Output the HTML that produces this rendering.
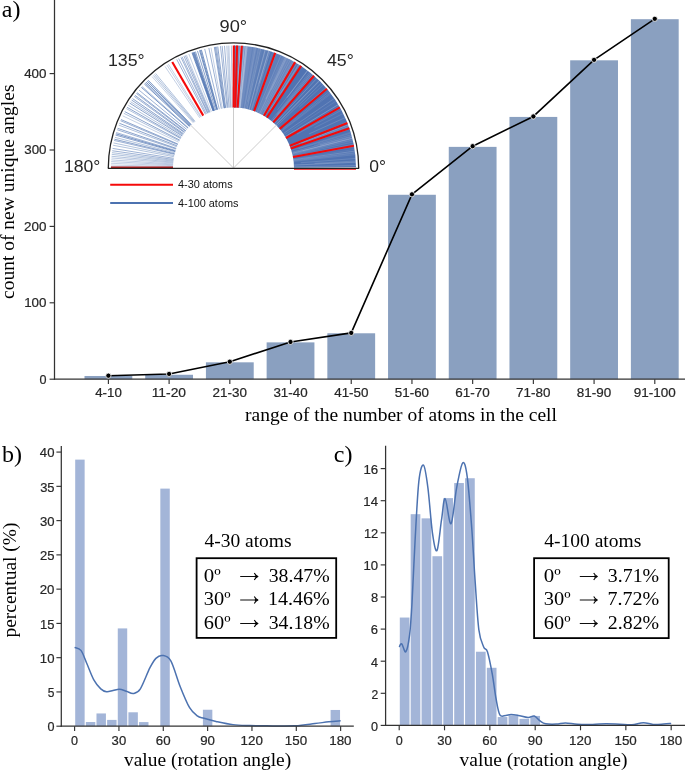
<!DOCTYPE html><html><head><meta charset="utf-8"><style>html,body{margin:0;padding:0;background:#fff;}svg{display:block;will-change:transform;}</style></head><body><svg width="685" height="770" viewBox="0 0 685 770"><rect width="685" height="770" fill="#fff"/><rect x="84.50" y="375.99" width="47.80" height="3.21" fill="#8aa0c0"/>
<rect x="145.21" y="374.77" width="47.80" height="4.43" fill="#8aa0c0"/>
<rect x="205.92" y="362.32" width="47.80" height="16.88" fill="#8aa0c0"/>
<rect x="266.63" y="342.38" width="47.80" height="36.82" fill="#8aa0c0"/>
<rect x="327.34" y="333.28" width="47.80" height="45.92" fill="#8aa0c0"/>
<rect x="388.05" y="194.77" width="47.80" height="184.43" fill="#8aa0c0"/>
<rect x="448.76" y="146.87" width="47.80" height="232.33" fill="#8aa0c0"/>
<rect x="509.47" y="116.92" width="47.80" height="262.28" fill="#8aa0c0"/>
<rect x="570.18" y="60.31" width="47.80" height="318.89" fill="#8aa0c0"/>
<rect x="630.89" y="19.20" width="47.80" height="360.00" fill="#8aa0c0"/>
<line x1="54.50" y1="0.00" x2="54.50" y2="379.80" stroke="#333333" stroke-width="1.25"/>
<line x1="53.90" y1="379.20" x2="685.00" y2="379.20" stroke="#333333" stroke-width="1.25"/>
<line x1="49.60" y1="379.20" x2="54.50" y2="379.20" stroke="#333333" stroke-width="1.15"/>
<text x="39.43" y="383.50" font-family='"Liberation Sans", sans-serif' font-size="12.4" fill="#262626" stroke="#262626" stroke-width="0.2" textLength="7.02" lengthAdjust="spacingAndGlyphs">0</text>
<line x1="49.60" y1="302.80" x2="54.50" y2="302.80" stroke="#333333" stroke-width="1.15"/>
<text x="24.18" y="307.10" font-family='"Liberation Sans", sans-serif' font-size="12.4" fill="#262626" stroke="#262626" stroke-width="0.2" textLength="22.34" lengthAdjust="spacingAndGlyphs">100</text>
<line x1="49.60" y1="226.40" x2="54.50" y2="226.40" stroke="#333333" stroke-width="1.15"/>
<text x="24.09" y="230.70" font-family='"Liberation Sans", sans-serif' font-size="12.4" fill="#262626" stroke="#262626" stroke-width="0.2" textLength="22.43" lengthAdjust="spacingAndGlyphs">200</text>
<line x1="49.60" y1="150.00" x2="54.50" y2="150.00" stroke="#333333" stroke-width="1.15"/>
<text x="24.23" y="154.30" font-family='"Liberation Sans", sans-serif' font-size="12.4" fill="#262626" stroke="#262626" stroke-width="0.2" textLength="22.29" lengthAdjust="spacingAndGlyphs">300</text>
<line x1="49.60" y1="73.60" x2="54.50" y2="73.60" stroke="#333333" stroke-width="1.15"/>
<text x="24.19" y="77.90" font-family='"Liberation Sans", sans-serif' font-size="12.4" fill="#262626" stroke="#262626" stroke-width="0.2" textLength="22.32" lengthAdjust="spacingAndGlyphs">400</text>
<line x1="108.40" y1="379.20" x2="108.40" y2="384.10" stroke="#333333" stroke-width="1.15"/>
<text x="95.20" y="397.00" font-family='"Liberation Sans", sans-serif' font-size="12.4" fill="#262626" stroke="#262626" stroke-width="0.2" textLength="26.61" lengthAdjust="spacingAndGlyphs">4-10</text>
<line x1="169.11" y1="379.20" x2="169.11" y2="384.10" stroke="#333333" stroke-width="1.15"/>
<text x="151.69" y="397.00" font-family='"Liberation Sans", sans-serif' font-size="12.4" fill="#262626" stroke="#262626" stroke-width="0.2" textLength="34.33" lengthAdjust="spacingAndGlyphs">11-20</text>
<line x1="229.82" y1="379.20" x2="229.82" y2="384.10" stroke="#333333" stroke-width="1.15"/>
<text x="212.56" y="397.00" font-family='"Liberation Sans", sans-serif' font-size="12.4" fill="#262626" stroke="#262626" stroke-width="0.2" textLength="34.36" lengthAdjust="spacingAndGlyphs">21-30</text>
<line x1="290.53" y1="379.20" x2="290.53" y2="384.10" stroke="#333333" stroke-width="1.15"/>
<text x="273.40" y="397.00" font-family='"Liberation Sans", sans-serif' font-size="12.4" fill="#262626" stroke="#262626" stroke-width="0.2" textLength="34.22" lengthAdjust="spacingAndGlyphs">31-40</text>
<line x1="351.24" y1="379.20" x2="351.24" y2="384.10" stroke="#333333" stroke-width="1.15"/>
<text x="334.23" y="397.00" font-family='"Liberation Sans", sans-serif' font-size="12.4" fill="#262626" stroke="#262626" stroke-width="0.2" textLength="34.25" lengthAdjust="spacingAndGlyphs">41-50</text>
<line x1="411.95" y1="379.20" x2="411.95" y2="384.10" stroke="#333333" stroke-width="1.15"/>
<text x="394.82" y="397.00" font-family='"Liberation Sans", sans-serif' font-size="12.4" fill="#262626" stroke="#262626" stroke-width="0.2" textLength="34.22" lengthAdjust="spacingAndGlyphs">51-60</text>
<line x1="472.66" y1="379.20" x2="472.66" y2="384.10" stroke="#333333" stroke-width="1.15"/>
<text x="455.37" y="397.00" font-family='"Liberation Sans", sans-serif' font-size="12.4" fill="#262626" stroke="#262626" stroke-width="0.2" textLength="34.42" lengthAdjust="spacingAndGlyphs">61-70</text>
<line x1="533.37" y1="379.20" x2="533.37" y2="384.10" stroke="#333333" stroke-width="1.15"/>
<text x="516.14" y="397.00" font-family='"Liberation Sans", sans-serif' font-size="12.4" fill="#262626" stroke="#262626" stroke-width="0.2" textLength="34.30" lengthAdjust="spacingAndGlyphs">71-80</text>
<line x1="594.08" y1="379.20" x2="594.08" y2="384.10" stroke="#333333" stroke-width="1.15"/>
<text x="576.82" y="397.00" font-family='"Liberation Sans", sans-serif' font-size="12.4" fill="#262626" stroke="#262626" stroke-width="0.2" textLength="34.41" lengthAdjust="spacingAndGlyphs">81-90</text>
<line x1="654.79" y1="379.20" x2="654.79" y2="384.10" stroke="#333333" stroke-width="1.15"/>
<text x="633.72" y="397.00" font-family='"Liberation Sans", sans-serif' font-size="12.4" fill="#262626" stroke="#262626" stroke-width="0.2" textLength="41.98" lengthAdjust="spacingAndGlyphs">91-100</text>
<polyline points="108.40,375.69 169.11,373.93 229.82,361.70 290.53,341.92 351.24,332.90 411.95,194.31 472.66,146.18 533.37,116.46 594.08,59.85 654.79,18.82" fill="none" stroke="#000" stroke-width="1.6" stroke-linejoin="round"/>
<circle cx="108.40" cy="375.69" r="2.6" fill="#000" stroke="#fff" stroke-width="0.8"/>
<circle cx="169.11" cy="373.93" r="2.6" fill="#000" stroke="#fff" stroke-width="0.8"/>
<circle cx="229.82" cy="361.70" r="2.6" fill="#000" stroke="#fff" stroke-width="0.8"/>
<circle cx="290.53" cy="341.92" r="2.6" fill="#000" stroke="#fff" stroke-width="0.8"/>
<circle cx="351.24" cy="332.90" r="2.6" fill="#000" stroke="#fff" stroke-width="0.8"/>
<circle cx="411.95" cy="194.31" r="2.6" fill="#000" stroke="#fff" stroke-width="0.8"/>
<circle cx="472.66" cy="146.18" r="2.6" fill="#000" stroke="#fff" stroke-width="0.8"/>
<circle cx="533.37" cy="116.46" r="2.6" fill="#000" stroke="#fff" stroke-width="0.8"/>
<circle cx="594.08" cy="59.85" r="2.6" fill="#000" stroke="#fff" stroke-width="0.8"/>
<circle cx="654.79" cy="18.82" r="2.6" fill="#000" stroke="#fff" stroke-width="0.8"/>
<text x="1.76" y="16.90" font-family='"Liberation Serif", serif' font-size="24" fill="#000">a)</text>
<text x="245.01" y="420.50" font-family='"Liberation Serif", serif' font-size="19.5" fill="#000">range of the number of atoms in the cell</text>
<text transform="translate(14.10,298.20) rotate(-90)" x="-0.78" y="0" font-family='"Liberation Serif", serif' font-size="19.5" fill="#000">count of new unique angles</text>
<path d="M356.00,167.36 A122.5,122.5 0 0 0 233.93,45.50 L233.71,107.50 A60.5,60.5 0 0 1 294.00,167.68 Z" fill="#5073b2"/>
<path d="M302.17,66.19 A122.8,122.8 0 0 0 301.28,65.60 L266.73,117.80 A60.2,60.2 0 0 1 267.16,118.09 Z" fill="#ffffff" fill-opacity="0.03"/>
<path d="M301.28,65.60 A122.8,122.8 0 0 0 295.27,61.87 L263.78,115.97 A60.2,60.2 0 0 1 266.73,117.80 Z" fill="#ffffff" fill-opacity="0.05"/>
<path d="M295.27,61.87 A122.8,122.8 0 0 0 283.45,55.82 L257.99,113.00 A60.2,60.2 0 0 1 263.78,115.97 Z" fill="#ffffff" fill-opacity="0.15"/>
<path d="M283.45,55.82 A122.8,122.8 0 0 0 275.50,52.61 L254.09,111.43 A60.2,60.2 0 0 1 257.99,113.00 Z" fill="#ffffff" fill-opacity="0.09"/>
<path d="M275.50,52.61 A122.8,122.8 0 0 0 269.40,50.57 L251.10,110.43 A60.2,60.2 0 0 1 254.09,111.43 Z" fill="#ffffff" fill-opacity="0.04"/>
<path d="M269.40,50.57 A122.8,122.8 0 0 0 256.93,47.46 L244.99,108.91 A60.2,60.2 0 0 1 251.10,110.43 Z" fill="#ffffff" fill-opacity="0.10"/>
<path d="M256.93,47.46 A122.8,122.8 0 0 0 242.07,45.50 L237.70,107.95 A60.2,60.2 0 0 1 244.99,108.91 Z" fill="#ffffff" fill-opacity="0.18"/>
<path d="M242.07,45.50 A122.8,122.8 0 0 0 237.14,45.25 L235.29,107.83 A60.2,60.2 0 0 1 237.70,107.95 Z" fill="#ffffff" fill-opacity="0.24"/>
<path d="M237.14,45.25 A122.8,122.8 0 0 0 233.93,45.20 L233.71,107.80 A60.2,60.2 0 0 1 235.29,107.83 Z" fill="#ffffff" fill-opacity="0.08"/>
<line x1="286.19" y1="138.28" x2="340.20" y2="107.81" stroke="#ffffff" stroke-width="0.37" stroke-opacity="0.27"/>
<line x1="284.17" y1="134.94" x2="336.09" y2="101.05" stroke="#ffffff" stroke-width="0.36" stroke-opacity="0.24"/>
<line x1="293.55" y1="160.65" x2="355.09" y2="153.12" stroke="#ffffff" stroke-width="0.56" stroke-opacity="0.15"/>
<line x1="290.16" y1="146.78" x2="348.22" y2="125.03" stroke="#ffffff" stroke-width="0.49" stroke-opacity="0.23"/>
<line x1="236.56" y1="107.58" x2="239.70" y2="45.66" stroke="#ffffff" stroke-width="0.42" stroke-opacity="0.16"/>
<line x1="292.85" y1="156.24" x2="353.66" y2="144.18" stroke="#ffffff" stroke-width="0.4" stroke-opacity="0.28"/>
<line x1="266.20" y1="117.10" x2="299.72" y2="64.94" stroke="#ffffff" stroke-width="0.37" stroke-opacity="0.14"/>
<line x1="290.70" y1="148.30" x2="349.32" y2="128.10" stroke="#ffffff" stroke-width="0.43" stroke-opacity="0.28"/>
<line x1="279.26" y1="128.42" x2="326.15" y2="87.86" stroke="#ffffff" stroke-width="0.52" stroke-opacity="0.19"/>
<line x1="271.10" y1="120.60" x2="309.63" y2="72.03" stroke="#ffffff" stroke-width="0.53" stroke-opacity="0.20"/>
<line x1="236.19" y1="107.56" x2="238.96" y2="45.62" stroke="#ffffff" stroke-width="0.54" stroke-opacity="0.16"/>
<line x1="277.00" y1="125.95" x2="321.58" y2="82.87" stroke="#ffffff" stroke-width="0.54" stroke-opacity="0.28"/>
<line x1="245.88" y1="108.78" x2="258.57" y2="48.09" stroke="#ffffff" stroke-width="0.5" stroke-opacity="0.28"/>
<line x1="239.50" y1="107.80" x2="245.65" y2="46.10" stroke="#ffffff" stroke-width="0.37" stroke-opacity="0.32"/>
<line x1="265.55" y1="116.69" x2="298.40" y2="64.11" stroke="#4c72b0" stroke-width="0.7" stroke-opacity="0.28"/>
<line x1="256.44" y1="90.77" x2="268.38" y2="50.57" stroke="#ffffff" stroke-width="0.36" stroke-opacity="0.25"/>
<line x1="313.95" y1="145.45" x2="351.46" y2="134.94" stroke="#ffffff" stroke-width="0.38" stroke-opacity="0.19"/>
<line x1="293.42" y1="159.66" x2="354.83" y2="151.11" stroke="#ffffff" stroke-width="0.57" stroke-opacity="0.35"/>
<line x1="246.93" y1="109.01" x2="260.69" y2="48.56" stroke="#ffffff" stroke-width="0.44" stroke-opacity="0.37"/>
<line x1="238.84" y1="100.75" x2="243.19" y2="45.88" stroke="#ffffff" stroke-width="0.41" stroke-opacity="0.26"/>
<line x1="277.60" y1="109.74" x2="307.43" y2="70.32" stroke="#ffffff" stroke-width="0.44" stroke-opacity="0.28"/>
<line x1="238.72" y1="107.73" x2="244.06" y2="45.96" stroke="#ffffff" stroke-width="0.5" stroke-opacity="0.31"/>
<line x1="254.44" y1="111.24" x2="275.90" y2="53.07" stroke="#4c72b0" stroke-width="0.7" stroke-opacity="0.34"/>
<line x1="253.86" y1="107.74" x2="272.71" y2="51.94" stroke="#ffffff" stroke-width="0.51" stroke-opacity="0.14"/>
<line x1="303.71" y1="159.69" x2="355.15" y2="153.59" stroke="#ffffff" stroke-width="0.36" stroke-opacity="0.12"/>
<line x1="292.90" y1="153.00" x2="352.27" y2="138.01" stroke="#ffffff" stroke-width="0.57" stroke-opacity="0.29"/>
<line x1="302.82" y1="150.80" x2="352.40" y2="138.51" stroke="#ffffff" stroke-width="0.38" stroke-opacity="0.36"/>
<line x1="234.99" y1="107.52" x2="236.51" y2="45.54" stroke="#ffffff" stroke-width="0.37" stroke-opacity="0.15"/>
<line x1="285.31" y1="136.76" x2="338.40" y2="104.74" stroke="#ffffff" stroke-width="0.39" stroke-opacity="0.13"/>
<line x1="240.37" y1="91.51" x2="244.46" y2="45.99" stroke="#ffffff" stroke-width="0.36" stroke-opacity="0.27"/>
<line x1="236.35" y1="107.57" x2="239.27" y2="45.64" stroke="#4c72b0" stroke-width="0.7" stroke-opacity="0.56"/>
<line x1="263.91" y1="109.97" x2="290.36" y2="59.50" stroke="#ffffff" stroke-width="0.54" stroke-opacity="0.27"/>
<line x1="262.98" y1="88.44" x2="276.06" y2="53.13" stroke="#ffffff" stroke-width="0.6" stroke-opacity="0.36"/>
<line x1="252.14" y1="110.44" x2="271.24" y2="51.46" stroke="#4c72b0" stroke-width="0.7" stroke-opacity="0.26"/>
<line x1="257.91" y1="112.64" x2="282.92" y2="55.91" stroke="#ffffff" stroke-width="0.44" stroke-opacity="0.13"/>
<line x1="314.64" y1="163.36" x2="355.80" y2="161.01" stroke="#ffffff" stroke-width="0.59" stroke-opacity="0.25"/>
<line x1="240.21" y1="107.87" x2="247.09" y2="46.26" stroke="#4c72b0" stroke-width="0.7" stroke-opacity="0.47"/>
<line x1="239.11" y1="100.93" x2="243.70" y2="45.93" stroke="#ffffff" stroke-width="0.4" stroke-opacity="0.18"/>
<line x1="249.06" y1="109.54" x2="265.01" y2="49.62" stroke="#ffffff" stroke-width="0.55" stroke-opacity="0.14"/>
<line x1="264.48" y1="116.04" x2="296.23" y2="62.78" stroke="#4c72b0" stroke-width="0.7" stroke-opacity="0.28"/>
<line x1="254.24" y1="111.16" x2="275.49" y2="52.92" stroke="#ffffff" stroke-width="0.39" stroke-opacity="0.34"/>
<line x1="236.99" y1="107.60" x2="240.56" y2="45.70" stroke="#ffffff" stroke-width="0.59" stroke-opacity="0.32"/>
<line x1="317.82" y1="144.09" x2="351.36" y2="134.59" stroke="#ffffff" stroke-width="0.55" stroke-opacity="0.16"/>
<line x1="250.31" y1="109.88" x2="267.55" y2="50.33" stroke="#4c72b0" stroke-width="0.7" stroke-opacity="0.35"/>
<line x1="264.75" y1="116.19" x2="296.77" y2="63.10" stroke="#ffffff" stroke-width="0.38" stroke-opacity="0.12"/>
<line x1="237.06" y1="107.60" x2="240.71" y2="45.71" stroke="#ffffff" stroke-width="0.58" stroke-opacity="0.24"/>
<line x1="246.22" y1="108.85" x2="259.26" y2="48.24" stroke="#4c72b0" stroke-width="0.7" stroke-opacity="0.35"/>
<line x1="297.35" y1="145.44" x2="349.00" y2="127.20" stroke="#ffffff" stroke-width="0.5" stroke-opacity="0.19"/>
<line x1="281.28" y1="130.89" x2="330.24" y2="92.85" stroke="#ffffff" stroke-width="0.44" stroke-opacity="0.25"/>
<line x1="276.17" y1="125.11" x2="319.90" y2="81.16" stroke="#ffffff" stroke-width="0.35" stroke-opacity="0.24"/>
<line x1="291.36" y1="150.32" x2="350.66" y2="132.21" stroke="#ffffff" stroke-width="0.39" stroke-opacity="0.25"/>
<line x1="265.75" y1="99.13" x2="285.45" y2="57.06" stroke="#ffffff" stroke-width="0.49" stroke-opacity="0.34"/>
<line x1="301.22" y1="155.84" x2="354.07" y2="146.35" stroke="#ffffff" stroke-width="0.54" stroke-opacity="0.26"/>
<line x1="272.02" y1="121.35" x2="311.49" y2="73.53" stroke="#ffffff" stroke-width="0.46" stroke-opacity="0.29"/>
<line x1="275.91" y1="124.86" x2="319.38" y2="80.64" stroke="#ffffff" stroke-width="0.46" stroke-opacity="0.27"/>
<line x1="261.33" y1="114.28" x2="289.85" y2="59.23" stroke="#4c72b0" stroke-width="0.7" stroke-opacity="0.42"/>
<line x1="239.73" y1="107.82" x2="246.12" y2="46.15" stroke="#ffffff" stroke-width="0.59" stroke-opacity="0.36"/>
<line x1="292.47" y1="154.47" x2="352.90" y2="140.60" stroke="#ffffff" stroke-width="0.37" stroke-opacity="0.19"/>
<line x1="293.51" y1="160.35" x2="355.02" y2="152.51" stroke="#ffffff" stroke-width="0.57" stroke-opacity="0.16"/>
<line x1="271.49" y1="89.75" x2="287.00" y2="57.80" stroke="#ffffff" stroke-width="0.59" stroke-opacity="0.18"/>
<line x1="238.77" y1="107.73" x2="244.17" y2="45.97" stroke="#ffffff" stroke-width="0.6" stroke-opacity="0.35"/>
<line x1="291.92" y1="152.27" x2="351.79" y2="136.14" stroke="#ffffff" stroke-width="0.43" stroke-opacity="0.17"/>
<line x1="300.98" y1="130.66" x2="340.68" y2="108.69" stroke="#ffffff" stroke-width="0.46" stroke-opacity="0.13"/>
<line x1="285.84" y1="137.65" x2="339.48" y2="106.56" stroke="#ffffff" stroke-width="0.37" stroke-opacity="0.40"/>
<line x1="253.70" y1="110.97" x2="274.41" y2="52.53" stroke="#4c72b0" stroke-width="0.7" stroke-opacity="0.26"/>
<line x1="316.08" y1="153.35" x2="354.12" y2="146.60" stroke="#ffffff" stroke-width="0.42" stroke-opacity="0.16"/>
<line x1="258.96" y1="83.68" x2="268.91" y2="50.73" stroke="#ffffff" stroke-width="0.49" stroke-opacity="0.32"/>
<line x1="293.30" y1="158.84" x2="354.59" y2="149.45" stroke="#ffffff" stroke-width="0.46" stroke-opacity="0.14"/>
<line x1="240.09" y1="107.86" x2="246.84" y2="46.23" stroke="#ffffff" stroke-width="0.37" stroke-opacity="0.36"/>
<line x1="279.22" y1="128.38" x2="326.07" y2="87.77" stroke="#ffffff" stroke-width="0.58" stroke-opacity="0.20"/>
<line x1="295.84" y1="154.50" x2="353.22" y2="142.06" stroke="#ffffff" stroke-width="0.39" stroke-opacity="0.13"/>
<line x1="312.42" y1="141.39" x2="349.58" y2="128.85" stroke="#ffffff" stroke-width="0.42" stroke-opacity="0.26"/>
<line x1="298.70" y1="148.65" x2="350.94" y2="133.15" stroke="#ffffff" stroke-width="0.35" stroke-opacity="0.33"/>
<line x1="272.78" y1="121.99" x2="313.04" y2="74.83" stroke="#ffffff" stroke-width="0.58" stroke-opacity="0.15"/>
<line x1="250.99" y1="110.08" x2="268.92" y2="50.73" stroke="#ffffff" stroke-width="0.56" stroke-opacity="0.23"/>
<line x1="275.84" y1="124.78" x2="319.22" y2="80.49" stroke="#ffffff" stroke-width="0.44" stroke-opacity="0.35"/>
<line x1="260.71" y1="113.96" x2="288.59" y2="58.59" stroke="#ffffff" stroke-width="0.44" stroke-opacity="0.14"/>
<line x1="292.62" y1="155.14" x2="353.20" y2="141.95" stroke="#ffffff" stroke-width="0.41" stroke-opacity="0.17"/>
<line x1="247.87" y1="101.78" x2="259.48" y2="48.29" stroke="#ffffff" stroke-width="0.42" stroke-opacity="0.25"/>
<line x1="319.92" y1="145.29" x2="351.98" y2="136.86" stroke="#ffffff" stroke-width="0.59" stroke-opacity="0.27"/>
<line x1="296.93" y1="134.04" x2="341.50" y2="110.18" stroke="#ffffff" stroke-width="0.47" stroke-opacity="0.26"/>
<line x1="298.36" y1="146.21" x2="349.62" y2="129.00" stroke="#ffffff" stroke-width="0.37" stroke-opacity="0.23"/>
<line x1="300.78" y1="162.72" x2="355.63" y2="158.42" stroke="#ffffff" stroke-width="0.5" stroke-opacity="0.27"/>
<line x1="257.00" y1="112.25" x2="281.07" y2="55.12" stroke="#ffffff" stroke-width="0.57" stroke-opacity="0.23"/>
<line x1="292.20" y1="153.35" x2="352.35" y2="138.34" stroke="#ffffff" stroke-width="0.36" stroke-opacity="0.35"/>
<line x1="244.37" y1="108.48" x2="255.51" y2="47.49" stroke="#ffffff" stroke-width="0.55" stroke-opacity="0.16"/>
<line x1="274.68" y1="123.68" x2="316.89" y2="78.26" stroke="#ffffff" stroke-width="0.55" stroke-opacity="0.35"/>
<line x1="263.13" y1="114.18" x2="292.57" y2="60.69" stroke="#ffffff" stroke-width="0.38" stroke-opacity="0.22"/>
<line x1="272.25" y1="121.54" x2="311.96" y2="73.92" stroke="#ffffff" stroke-width="0.52" stroke-opacity="0.26"/>
<line x1="293.99" y1="166.85" x2="355.98" y2="165.66" stroke="#ffffff" stroke-width="0.48" stroke-opacity="0.27"/>
<line x1="264.59" y1="116.10" x2="296.44" y2="62.91" stroke="#ffffff" stroke-width="0.41" stroke-opacity="0.14"/>
<line x1="308.88" y1="134.00" x2="345.17" y2="117.64" stroke="#ffffff" stroke-width="0.59" stroke-opacity="0.26"/>
<line x1="283.29" y1="133.63" x2="334.31" y2="98.41" stroke="#ffffff" stroke-width="0.54" stroke-opacity="0.29"/>
<line x1="269.98" y1="110.47" x2="299.10" y2="64.55" stroke="#ffffff" stroke-width="0.54" stroke-opacity="0.21"/>
<line x1="276.66" y1="114.72" x2="310.61" y2="72.81" stroke="#ffffff" stroke-width="0.52" stroke-opacity="0.31"/>
<line x1="263.26" y1="115.33" x2="293.76" y2="61.35" stroke="#ffffff" stroke-width="0.47" stroke-opacity="0.25"/>
<line x1="240.28" y1="107.88" x2="247.23" y2="46.27" stroke="#ffffff" stroke-width="0.55" stroke-opacity="0.39"/>
<line x1="301.04" y1="110.25" x2="326.61" y2="88.39" stroke="#ffffff" stroke-width="0.4" stroke-opacity="0.28"/>
<line x1="292.37" y1="154.05" x2="352.70" y2="139.76" stroke="#ffffff" stroke-width="0.38" stroke-opacity="0.35"/>
<line x1="260.99" y1="114.11" x2="289.16" y2="58.88" stroke="#ffffff" stroke-width="0.47" stroke-opacity="0.13"/>
<line x1="293.99" y1="166.82" x2="355.98" y2="165.61" stroke="#ffffff" stroke-width="0.43" stroke-opacity="0.16"/>
<line x1="285.25" y1="136.65" x2="338.28" y2="104.53" stroke="#ffffff" stroke-width="0.35" stroke-opacity="0.33"/>
<line x1="249.18" y1="109.57" x2="265.25" y2="49.69" stroke="#ffffff" stroke-width="0.53" stroke-opacity="0.37"/>
<line x1="314.51" y1="127.75" x2="343.20" y2="113.49" stroke="#ffffff" stroke-width="0.5" stroke-opacity="0.22"/>
<line x1="283.14" y1="128.32" x2="329.18" y2="91.51" stroke="#ffffff" stroke-width="0.56" stroke-opacity="0.20"/>
<line x1="242.08" y1="92.66" x2="247.35" y2="46.29" stroke="#ffffff" stroke-width="0.4" stroke-opacity="0.22"/>
<line x1="238.43" y1="107.70" x2="243.48" y2="45.91" stroke="#4c72b0" stroke-width="0.7" stroke-opacity="0.47"/>
<line x1="251.61" y1="110.28" x2="270.18" y2="51.12" stroke="#ffffff" stroke-width="0.59" stroke-opacity="0.27"/>
<line x1="259.63" y1="113.43" x2="286.41" y2="57.52" stroke="#ffffff" stroke-width="0.46" stroke-opacity="0.33"/>
<line x1="280.59" y1="93.30" x2="298.83" y2="64.37" stroke="#ffffff" stroke-width="0.38" stroke-opacity="0.25"/>
<line x1="285.26" y1="136.68" x2="338.30" y2="104.58" stroke="#ffffff" stroke-width="0.59" stroke-opacity="0.19"/>
<line x1="264.85" y1="116.26" x2="296.98" y2="63.23" stroke="#ffffff" stroke-width="0.45" stroke-opacity="0.17"/>
<line x1="291.91" y1="152.25" x2="351.78" y2="136.11" stroke="#ffffff" stroke-width="0.47" stroke-opacity="0.18"/>
<line x1="243.05" y1="108.26" x2="252.85" y2="47.04" stroke="#4c72b0" stroke-width="0.7" stroke-opacity="0.47"/>
<line x1="281.52" y1="126.88" x2="326.54" y2="88.32" stroke="#ffffff" stroke-width="0.44" stroke-opacity="0.15"/>
<line x1="289.62" y1="145.40" x2="347.13" y2="122.23" stroke="#ffffff" stroke-width="0.57" stroke-opacity="0.33"/>
<line x1="281.63" y1="131.35" x2="330.96" y2="93.78" stroke="#ffffff" stroke-width="0.44" stroke-opacity="0.21"/>
<line x1="293.64" y1="161.38" x2="355.26" y2="154.59" stroke="#ffffff" stroke-width="0.38" stroke-opacity="0.26"/>
<line x1="266.93" y1="117.57" x2="301.19" y2="65.90" stroke="#4c72b0" stroke-width="0.7" stroke-opacity="0.24"/>
<line x1="301.67" y1="143.34" x2="348.69" y2="126.32" stroke="#ffffff" stroke-width="0.46" stroke-opacity="0.39"/>
<line x1="248.32" y1="109.34" x2="263.50" y2="49.23" stroke="#4c72b0" stroke-width="0.7" stroke-opacity="0.35"/>
<line x1="293.93" y1="165.12" x2="355.86" y2="162.17" stroke="#ffffff" stroke-width="0.57" stroke-opacity="0.25"/>
<line x1="287.00" y1="97.75" x2="307.72" y2="70.55" stroke="#ffffff" stroke-width="0.56" stroke-opacity="0.36"/>
<line x1="237.20" y1="102.97" x2="240.45" y2="45.70" stroke="#ffffff" stroke-width="0.48" stroke-opacity="0.31"/>
<line x1="239.79" y1="107.83" x2="246.25" y2="46.16" stroke="#ffffff" stroke-width="0.54" stroke-opacity="0.25"/>
<line x1="272.75" y1="121.96" x2="312.97" y2="74.78" stroke="#ffffff" stroke-width="0.41" stroke-opacity="0.38"/>
<line x1="269.70" y1="110.37" x2="298.66" y2="64.27" stroke="#ffffff" stroke-width="0.51" stroke-opacity="0.32"/>
<line x1="292.95" y1="156.75" x2="353.87" y2="145.23" stroke="#ffffff" stroke-width="0.5" stroke-opacity="0.23"/>
<line x1="298.61" y1="143.57" x2="348.19" y2="124.97" stroke="#ffffff" stroke-width="0.47" stroke-opacity="0.39"/>
<line x1="265.76" y1="116.82" x2="298.81" y2="64.36" stroke="#4c72b0" stroke-width="0.7" stroke-opacity="0.28"/>
<line x1="299.02" y1="107.29" x2="323.36" y2="84.74" stroke="#ffffff" stroke-width="0.53" stroke-opacity="0.21"/>
<line x1="293.93" y1="165.12" x2="355.86" y2="162.17" stroke="#ffffff" stroke-width="0.46" stroke-opacity="0.19"/>
<line x1="232.44" y1="107.51" x2="231.36" y2="45.52" stroke="#4c72b0" stroke-width="0.8" stroke-opacity="0.54"/>
<line x1="231.28" y1="107.54" x2="229.01" y2="45.58" stroke="#4c72b0" stroke-width="0.8" stroke-opacity="0.41"/>
<line x1="230.76" y1="107.56" x2="227.94" y2="45.63" stroke="#4c72b0" stroke-width="0.8" stroke-opacity="0.41"/>
<line x1="230.12" y1="107.59" x2="226.66" y2="45.69" stroke="#4c72b0" stroke-width="0.8" stroke-opacity="0.41"/>
<line x1="229.07" y1="107.66" x2="224.53" y2="45.83" stroke="#4c72b0" stroke-width="0.8" stroke-opacity="0.68"/>
<line x1="227.91" y1="107.76" x2="222.18" y2="46.02" stroke="#4c72b0" stroke-width="0.8" stroke-opacity="0.68"/>
<line x1="227.07" y1="107.84" x2="220.48" y2="46.19" stroke="#4c72b0" stroke-width="0.8" stroke-opacity="0.68"/>
<line x1="225.71" y1="108.00" x2="217.72" y2="46.52" stroke="#4c72b0" stroke-width="0.8" stroke-opacity="0.81"/>
<line x1="225.08" y1="108.09" x2="216.45" y2="46.69" stroke="#4c72b0" stroke-width="0.8" stroke-opacity="0.68"/>
<line x1="224.56" y1="108.16" x2="215.39" y2="46.85" stroke="#4c72b0" stroke-width="0.8" stroke-opacity="0.81"/>
<line x1="224.04" y1="108.24" x2="214.34" y2="47.01" stroke="#4c72b0" stroke-width="0.8" stroke-opacity="0.81"/>
<line x1="222.37" y1="108.53" x2="210.97" y2="47.59" stroke="#4c72b0" stroke-width="0.8" stroke-opacity="0.41"/>
<line x1="221.33" y1="108.74" x2="208.87" y2="48.00" stroke="#4c72b0" stroke-width="0.8" stroke-opacity="0.68"/>
<line x1="219.27" y1="109.20" x2="204.70" y2="48.93" stroke="#4c72b0" stroke-width="0.8" stroke-opacity="0.68"/>
<line x1="217.64" y1="109.62" x2="201.38" y2="49.79" stroke="#4c72b0" stroke-width="0.8" stroke-opacity="0.95"/>
<line x1="217.13" y1="109.76" x2="200.35" y2="50.07" stroke="#4c72b0" stroke-width="0.8" stroke-opacity="0.95"/>
<line x1="216.72" y1="109.87" x2="199.53" y2="50.30" stroke="#4c72b0" stroke-width="0.8" stroke-opacity="0.95"/>
<line x1="215.71" y1="110.17" x2="197.48" y2="50.92" stroke="#4c72b0" stroke-width="0.8" stroke-opacity="0.81"/>
<line x1="214.70" y1="110.49" x2="195.44" y2="51.56" stroke="#4c72b0" stroke-width="0.8" stroke-opacity="0.81"/>
<line x1="214.20" y1="110.66" x2="194.43" y2="51.90" stroke="#4c72b0" stroke-width="0.8" stroke-opacity="0.94"/>
<line x1="213.90" y1="110.76" x2="193.82" y2="52.10" stroke="#4c72b0" stroke-width="0.8" stroke-opacity="0.94"/>
<line x1="213.60" y1="110.87" x2="193.21" y2="52.31" stroke="#4c72b0" stroke-width="0.8" stroke-opacity="0.94"/>
<line x1="213.30" y1="110.97" x2="192.61" y2="52.53" stroke="#4c72b0" stroke-width="0.8" stroke-opacity="0.94"/>
<line x1="213.01" y1="111.08" x2="192.00" y2="52.74" stroke="#4c72b0" stroke-width="0.8" stroke-opacity="0.94"/>
<line x1="211.42" y1="111.67" x2="188.80" y2="53.95" stroke="#4c72b0" stroke-width="0.8" stroke-opacity="0.41"/>
<line x1="210.25" y1="112.15" x2="186.42" y2="54.91" stroke="#4c72b0" stroke-width="0.8" stroke-opacity="0.41"/>
<line x1="209.67" y1="112.39" x2="185.24" y2="55.41" stroke="#4c72b0" stroke-width="0.8" stroke-opacity="0.68"/>
<line x1="208.99" y1="112.69" x2="183.87" y2="56.00" stroke="#4c72b0" stroke-width="0.8" stroke-opacity="0.68"/>
<line x1="208.12" y1="113.08" x2="182.12" y2="56.80" stroke="#4c72b0" stroke-width="0.8" stroke-opacity="0.68"/>
<line x1="207.55" y1="113.35" x2="180.96" y2="57.34" stroke="#4c72b0" stroke-width="0.8" stroke-opacity="0.68"/>
<line x1="206.41" y1="113.90" x2="178.65" y2="58.47" stroke="#4c72b0" stroke-width="0.8" stroke-opacity="0.68"/>
<line x1="205.47" y1="114.38" x2="176.75" y2="59.44" stroke="#4c72b0" stroke-width="0.8" stroke-opacity="0.68"/>
<line x1="201.35" y1="116.75" x2="168.40" y2="64.23" stroke="#4c72b0" stroke-width="0.8" stroke-opacity="0.41"/>
<line x1="200.64" y1="117.20" x2="166.96" y2="65.15" stroke="#4c72b0" stroke-width="0.8" stroke-opacity="0.41"/>
<line x1="199.67" y1="117.84" x2="165.00" y2="66.44" stroke="#4c72b0" stroke-width="0.8" stroke-opacity="0.41"/>
<line x1="195.02" y1="121.32" x2="155.58" y2="73.48" stroke="#4c72b0" stroke-width="0.8" stroke-opacity="0.54"/>
<line x1="194.45" y1="121.79" x2="154.43" y2="74.43" stroke="#4c72b0" stroke-width="0.8" stroke-opacity="0.54"/>
<line x1="193.89" y1="122.27" x2="153.29" y2="75.41" stroke="#4c72b0" stroke-width="0.8" stroke-opacity="0.54"/>
<line x1="193.25" y1="122.83" x2="152.01" y2="76.54" stroke="#4c72b0" stroke-width="0.8" stroke-opacity="0.41"/>
<line x1="191.32" y1="124.63" x2="148.10" y2="80.18" stroke="#4c72b0" stroke-width="0.8" stroke-opacity="0.95"/>
<line x1="190.87" y1="125.07" x2="147.18" y2="81.08" stroke="#4c72b0" stroke-width="0.8" stroke-opacity="0.95"/>
<line x1="190.35" y1="125.59" x2="146.13" y2="82.14" stroke="#4c72b0" stroke-width="0.8" stroke-opacity="0.95"/>
<line x1="189.91" y1="126.05" x2="145.23" y2="83.06" stroke="#4c72b0" stroke-width="0.8" stroke-opacity="0.95"/>
<line x1="189.47" y1="126.51" x2="144.35" y2="83.99" stroke="#4c72b0" stroke-width="0.8" stroke-opacity="0.94"/>
<line x1="188.33" y1="127.75" x2="142.04" y2="86.51" stroke="#4c72b0" stroke-width="0.8" stroke-opacity="0.54"/>
<line x1="187.98" y1="128.15" x2="141.33" y2="87.31" stroke="#4c72b0" stroke-width="0.8" stroke-opacity="0.95"/>
<line x1="186.82" y1="129.52" x2="138.98" y2="90.08" stroke="#4c72b0" stroke-width="0.8" stroke-opacity="0.68"/>
<line x1="185.83" y1="130.75" x2="136.97" y2="92.58" stroke="#4c72b0" stroke-width="0.8" stroke-opacity="0.81"/>
<line x1="185.50" y1="131.17" x2="136.31" y2="93.43" stroke="#4c72b0" stroke-width="0.8" stroke-opacity="0.68"/>
<line x1="184.80" y1="132.10" x2="134.90" y2="95.31" stroke="#4c72b0" stroke-width="0.8" stroke-opacity="0.81"/>
<line x1="184.43" y1="132.61" x2="134.14" y2="96.34" stroke="#4c72b0" stroke-width="0.8" stroke-opacity="0.68"/>
<line x1="183.64" y1="133.73" x2="132.54" y2="98.62" stroke="#4c72b0" stroke-width="0.8" stroke-opacity="0.81"/>
<line x1="183.17" y1="134.43" x2="131.59" y2="100.03" stroke="#4c72b0" stroke-width="0.8" stroke-opacity="0.81"/>
<line x1="182.65" y1="135.23" x2="130.53" y2="101.64" stroke="#4c72b0" stroke-width="0.8" stroke-opacity="0.54"/>
<line x1="182.19" y1="135.94" x2="129.61" y2="103.08" stroke="#4c72b0" stroke-width="0.8" stroke-opacity="0.81"/>
<line x1="181.53" y1="137.02" x2="128.28" y2="105.27" stroke="#4c72b0" stroke-width="0.8" stroke-opacity="0.54"/>
<line x1="180.95" y1="138.02" x2="127.09" y2="107.31" stroke="#4c72b0" stroke-width="0.8" stroke-opacity="0.81"/>
<line x1="180.59" y1="138.67" x2="126.36" y2="108.61" stroke="#4c72b0" stroke-width="0.8" stroke-opacity="0.54"/>
<line x1="179.79" y1="140.16" x2="124.74" y2="111.63" stroke="#4c72b0" stroke-width="0.8" stroke-opacity="0.81"/>
<line x1="179.36" y1="141.01" x2="123.87" y2="113.34" stroke="#4c72b0" stroke-width="0.8" stroke-opacity="0.54"/>
<line x1="178.76" y1="142.24" x2="122.66" y2="115.84" stroke="#4c72b0" stroke-width="0.8" stroke-opacity="0.41"/>
<line x1="177.93" y1="144.07" x2="120.99" y2="119.55" stroke="#4c72b0" stroke-width="0.8" stroke-opacity="0.81"/>
<line x1="177.69" y1="144.65" x2="120.49" y2="120.73" stroke="#4c72b0" stroke-width="0.8" stroke-opacity="0.68"/>
<line x1="177.17" y1="145.92" x2="119.45" y2="123.30" stroke="#4c72b0" stroke-width="0.8" stroke-opacity="0.81"/>
<line x1="176.83" y1="146.81" x2="118.76" y2="125.10" stroke="#4c72b0" stroke-width="0.8" stroke-opacity="0.54"/>
<line x1="176.26" y1="148.40" x2="117.60" y2="128.32" stroke="#4c72b0" stroke-width="0.8" stroke-opacity="0.81"/>
<line x1="176.03" y1="149.10" x2="117.13" y2="129.74" stroke="#4c72b0" stroke-width="0.8" stroke-opacity="0.68"/>
<line x1="175.58" y1="150.51" x2="116.23" y2="132.59" stroke="#4c72b0" stroke-width="0.8" stroke-opacity="0.68"/>
<line x1="175.40" y1="151.12" x2="115.86" y2="133.82" stroke="#4c72b0" stroke-width="0.8" stroke-opacity="0.94"/>
<line x1="175.23" y1="151.73" x2="115.51" y2="135.06" stroke="#4c72b0" stroke-width="0.8" stroke-opacity="0.81"/>
<line x1="174.93" y1="152.85" x2="114.90" y2="137.33" stroke="#4c72b0" stroke-width="0.8" stroke-opacity="0.54"/>
<line x1="174.70" y1="153.77" x2="114.43" y2="139.20" stroke="#4c72b0" stroke-width="0.8" stroke-opacity="0.81"/>
<line x1="174.55" y1="154.39" x2="114.14" y2="140.44" stroke="#4c72b0" stroke-width="0.8" stroke-opacity="0.68"/>
<line x1="174.28" y1="155.63" x2="113.59" y2="142.95" stroke="#4c72b0" stroke-width="0.8" stroke-opacity="0.54"/>
<line x1="174.05" y1="156.77" x2="113.13" y2="145.26" stroke="#4c72b0" stroke-width="0.8" stroke-opacity="0.54"/>
<line x1="173.78" y1="158.33" x2="112.58" y2="148.41" stroke="#4c72b0" stroke-width="0.8" stroke-opacity="0.68"/>
<line x1="173.60" y1="159.48" x2="112.22" y2="150.74" stroke="#4c72b0" stroke-width="0.8" stroke-opacity="0.68"/>
<line x1="173.48" y1="160.42" x2="111.97" y2="152.65" stroke="#4c72b0" stroke-width="0.8" stroke-opacity="0.54"/>
<line x1="173.38" y1="161.26" x2="111.76" y2="154.35" stroke="#4c72b0" stroke-width="0.8" stroke-opacity="0.54"/>
<line x1="173.28" y1="162.20" x2="111.56" y2="156.26" stroke="#4c72b0" stroke-width="0.8" stroke-opacity="0.54"/>
<line x1="173.20" y1="163.04" x2="111.41" y2="157.96" stroke="#4c72b0" stroke-width="0.8" stroke-opacity="0.47"/>
<line x1="173.13" y1="163.99" x2="111.27" y2="159.88" stroke="#4c72b0" stroke-width="0.8" stroke-opacity="0.47"/>
<line x1="173.08" y1="164.83" x2="111.17" y2="161.59" stroke="#4c72b0" stroke-width="0.8" stroke-opacity="0.47"/>
<line x1="173.04" y1="165.68" x2="111.09" y2="163.30" stroke="#4c72b0" stroke-width="0.8" stroke-opacity="0.41"/>
<line x1="173.02" y1="166.52" x2="111.04" y2="165.01" stroke="#4c72b0" stroke-width="0.8" stroke-opacity="0.41"/>
<line x1="173.00" y1="167.26" x2="111.01" y2="166.50" stroke="#4c72b0" stroke-width="0.8" stroke-opacity="0.41"/>
<line x1="233.50" y1="168.00" x2="276.28" y2="125.22" stroke="#cccccc" stroke-width="1.0"/>
<line x1="233.50" y1="168.00" x2="233.50" y2="107.50" stroke="#cccccc" stroke-width="1.0"/>
<line x1="233.50" y1="168.00" x2="190.72" y2="125.22" stroke="#cccccc" stroke-width="1.0"/>
<line x1="233.66" y1="107.50" x2="233.82" y2="45.50" stroke="#f50a0a" stroke-width="2.1"/>
<line x1="235.29" y1="107.53" x2="237.13" y2="45.55" stroke="#f50a0a" stroke-width="2.1"/>
<line x1="237.61" y1="107.64" x2="241.83" y2="45.78" stroke="#f50a0a" stroke-width="2.1"/>
<line x1="254.09" y1="111.11" x2="275.20" y2="52.81" stroke="#f50a0a" stroke-width="2.1"/>
<line x1="263.93" y1="115.71" x2="295.12" y2="62.13" stroke="#f50a0a" stroke-width="2.1"/>
<line x1="266.89" y1="117.55" x2="301.11" y2="65.85" stroke="#f50a0a" stroke-width="2.1"/>
<line x1="273.27" y1="122.41" x2="314.03" y2="75.69" stroke="#f50a0a" stroke-width="2.1"/>
<line x1="279.64" y1="128.87" x2="326.93" y2="88.77" stroke="#f50a0a" stroke-width="2.1"/>
<line x1="286.05" y1="138.02" x2="339.91" y2="107.31" stroke="#f50a0a" stroke-width="2.1"/>
<line x1="289.75" y1="145.73" x2="347.40" y2="122.90" stroke="#f50a0a" stroke-width="2.1"/>
<line x1="290.74" y1="148.40" x2="349.40" y2="128.32" stroke="#f50a0a" stroke-width="2.1"/>
<line x1="292.99" y1="156.97" x2="353.95" y2="145.68" stroke="#f50a0a" stroke-width="2.1"/>
<line x1="203.25" y1="115.61" x2="172.25" y2="61.91" stroke="#f50a0a" stroke-width="2.1"/>
<line x1="294.00" y1="169.00" x2="356.00" y2="169.00" stroke="#f50a0a" stroke-width="1.6"/>
<line x1="111.00" y1="167.60" x2="173.00" y2="167.60" stroke="#b81c1c" stroke-width="2.3"/>
<path d="M108.30,168.00 A125.2,125.2 0 0 1 358.70,168.00" fill="none" stroke="#222" stroke-width="1.3"/>
<line x1="107.80" y1="168.30" x2="359.20" y2="168.30" stroke="#222" stroke-width="1.3"/>
<text x="219.48" y="31.50" font-family='"Liberation Sans", sans-serif' font-size="15.6" fill="#262626" textLength="27.66" lengthAdjust="spacingAndGlyphs">90°</text>
<text x="107.97" y="66.10" font-family='"Liberation Sans", sans-serif' font-size="15.6" fill="#262626" textLength="36.77" lengthAdjust="spacingAndGlyphs">135°</text>
<text x="326.94" y="65.80" font-family='"Liberation Sans", sans-serif' font-size="15.6" fill="#262626" textLength="26.86" lengthAdjust="spacingAndGlyphs">45°</text>
<text x="63.98" y="172.10" font-family='"Liberation Sans", sans-serif' font-size="15.6" fill="#262626" textLength="36.45" lengthAdjust="spacingAndGlyphs">180°</text>
<text x="369.30" y="172.40" font-family='"Liberation Sans", sans-serif' font-size="15.6" fill="#262626" textLength="16.77" lengthAdjust="spacingAndGlyphs">0°</text>
<line x1="110.20" y1="184.70" x2="173.00" y2="184.70" stroke="#f50a0a" stroke-width="2.0"/>
<line x1="110.20" y1="203.10" x2="173.00" y2="203.10" stroke="#4c72b0" stroke-width="2.0"/>
<text x="177.98" y="187.70" font-family='"Liberation Sans", sans-serif' font-size="10.8" fill="#111" textLength="54.67" lengthAdjust="spacingAndGlyphs">4-30 atoms</text>
<text x="177.98" y="206.50" font-family='"Liberation Sans", sans-serif' font-size="10.8" fill="#111" textLength="60.48" lengthAdjust="spacingAndGlyphs">4-100 atoms</text>
<rect x="75.20" y="459.62" width="9.44" height="266.58" fill="#a3b5d8"/>
<rect x="85.84" y="722.02" width="9.44" height="4.18" fill="#a3b5d8"/>
<rect x="96.48" y="713.45" width="9.44" height="12.75" fill="#a3b5d8"/>
<rect x="107.12" y="719.90" width="9.44" height="6.30" fill="#a3b5d8"/>
<rect x="117.77" y="628.41" width="9.44" height="97.79" fill="#a3b5d8"/>
<rect x="128.41" y="712.29" width="9.44" height="13.91" fill="#a3b5d8"/>
<rect x="139.05" y="722.09" width="9.44" height="4.11" fill="#a3b5d8"/>
<rect x="160.33" y="488.61" width="9.44" height="237.59" fill="#a3b5d8"/>
<rect x="202.90" y="709.75" width="9.44" height="16.45" fill="#a3b5d8"/>
<rect x="330.60" y="709.96" width="9.44" height="16.24" fill="#a3b5d8"/>
<path d="M74.60,647.39 C75.66,647.89 78.94,647.76 80.96,650.41 C82.98,653.06 84.60,658.42 86.72,663.29 C88.84,668.16 91.33,675.34 93.67,679.60 C96.01,683.86 98.62,686.83 100.76,688.85 C102.90,690.87 104.48,691.44 106.52,691.73 C108.57,692.01 110.88,690.96 113.03,690.56 C115.17,690.16 117.17,689.22 119.38,689.33 C121.60,689.45 123.99,690.55 126.33,691.25 C128.67,691.95 131.08,693.91 133.42,693.51 C135.76,693.11 137.64,693.11 140.37,688.85 C143.11,684.59 147.24,673.03 149.83,667.95 C152.42,662.87 153.77,660.43 155.89,658.36 C158.01,656.28 160.05,655.05 162.54,655.48 C165.03,655.90 167.89,655.72 170.82,660.89 C173.75,666.06 177.03,678.75 180.13,686.52 C183.23,694.29 186.58,702.59 189.44,707.49 C192.30,712.39 194.84,714.12 197.27,715.92 C199.71,717.73 200.94,717.41 204.07,718.32 C207.20,719.23 211.22,720.35 216.04,721.40 C220.87,722.45 227.43,723.94 233.04,724.62 C238.66,725.31 244.13,725.31 249.74,725.51 C255.36,725.72 259.23,725.80 266.74,725.86 C274.25,725.91 286.79,726.23 294.82,725.86 C302.85,725.48 309.26,724.28 314.92,723.60 C320.59,722.91 324.53,722.23 328.82,721.75 C333.10,721.27 338.67,720.89 340.64,720.72" fill="none" stroke="#4c72b0" stroke-width="1.5" stroke-linejoin="round"/>
<line x1="61.30" y1="445.90" x2="61.30" y2="726.80" stroke="#333333" stroke-width="1.25"/>
<line x1="60.70" y1="726.20" x2="353.80" y2="726.20" stroke="#333333" stroke-width="1.25"/>
<line x1="56.40" y1="726.20" x2="61.30" y2="726.20" stroke="#333333" stroke-width="1.15"/>
<text x="47.43" y="731.40" font-family='"Liberation Sans", sans-serif' font-size="12.4" fill="#262626" stroke="#262626" stroke-width="0.2" textLength="7.02" lengthAdjust="spacingAndGlyphs">0</text>
<line x1="56.40" y1="691.94" x2="61.30" y2="691.94" stroke="#333333" stroke-width="1.15"/>
<text x="47.82" y="697.14" font-family='"Liberation Sans", sans-serif' font-size="12.4" fill="#262626" stroke="#262626" stroke-width="0.2" textLength="6.67" lengthAdjust="spacingAndGlyphs">5</text>
<line x1="56.40" y1="657.67" x2="61.30" y2="657.67" stroke="#333333" stroke-width="1.15"/>
<text x="39.87" y="662.87" font-family='"Liberation Sans", sans-serif' font-size="12.4" fill="#262626" stroke="#262626" stroke-width="0.2" textLength="14.62" lengthAdjust="spacingAndGlyphs">10</text>
<line x1="56.40" y1="623.41" x2="61.30" y2="623.41" stroke="#333333" stroke-width="1.15"/>
<text x="40.13" y="628.61" font-family='"Liberation Sans", sans-serif' font-size="12.4" fill="#262626" stroke="#262626" stroke-width="0.2" textLength="14.42" lengthAdjust="spacingAndGlyphs">15</text>
<line x1="56.40" y1="589.14" x2="61.30" y2="589.14" stroke="#333333" stroke-width="1.15"/>
<text x="39.78" y="594.34" font-family='"Liberation Sans", sans-serif' font-size="12.4" fill="#262626" stroke="#262626" stroke-width="0.2" textLength="14.72" lengthAdjust="spacingAndGlyphs">20</text>
<line x1="56.40" y1="554.88" x2="61.30" y2="554.88" stroke="#333333" stroke-width="1.15"/>
<text x="40.03" y="560.08" font-family='"Liberation Sans", sans-serif' font-size="12.4" fill="#262626" stroke="#262626" stroke-width="0.2" textLength="14.53" lengthAdjust="spacingAndGlyphs">25</text>
<line x1="56.40" y1="520.61" x2="61.30" y2="520.61" stroke="#333333" stroke-width="1.15"/>
<text x="39.92" y="525.81" font-family='"Liberation Sans", sans-serif' font-size="12.4" fill="#262626" stroke="#262626" stroke-width="0.2" textLength="14.57" lengthAdjust="spacingAndGlyphs">30</text>
<line x1="56.40" y1="486.35" x2="61.30" y2="486.35" stroke="#333333" stroke-width="1.15"/>
<text x="40.16" y="491.55" font-family='"Liberation Sans", sans-serif' font-size="12.4" fill="#262626" stroke="#262626" stroke-width="0.2" textLength="14.38" lengthAdjust="spacingAndGlyphs">35</text>
<line x1="56.40" y1="452.08" x2="61.30" y2="452.08" stroke="#333333" stroke-width="1.15"/>
<text x="39.88" y="457.28" font-family='"Liberation Sans", sans-serif' font-size="12.4" fill="#262626" stroke="#262626" stroke-width="0.2" textLength="14.61" lengthAdjust="spacingAndGlyphs">40</text>
<line x1="74.60" y1="726.20" x2="74.60" y2="731.10" stroke="#333333" stroke-width="1.15"/>
<text x="71.06" y="744.70" font-family='"Liberation Sans", sans-serif' font-size="12.4" fill="#262626" stroke="#262626" stroke-width="0.2" textLength="7.02" lengthAdjust="spacingAndGlyphs">0</text>
<line x1="118.94" y1="726.20" x2="118.94" y2="731.10" stroke="#333333" stroke-width="1.15"/>
<text x="111.64" y="744.70" font-family='"Liberation Sans", sans-serif' font-size="12.4" fill="#262626" stroke="#262626" stroke-width="0.2" textLength="14.57" lengthAdjust="spacingAndGlyphs">30</text>
<line x1="163.28" y1="726.20" x2="163.28" y2="731.10" stroke="#333333" stroke-width="1.15"/>
<text x="155.81" y="744.70" font-family='"Liberation Sans", sans-serif' font-size="12.4" fill="#262626" stroke="#262626" stroke-width="0.2" textLength="14.78" lengthAdjust="spacingAndGlyphs">60</text>
<line x1="207.62" y1="726.20" x2="207.62" y2="731.10" stroke="#333333" stroke-width="1.15"/>
<text x="200.18" y="744.70" font-family='"Liberation Sans", sans-serif' font-size="12.4" fill="#262626" stroke="#262626" stroke-width="0.2" textLength="14.77" lengthAdjust="spacingAndGlyphs">90</text>
<line x1="251.96" y1="726.20" x2="251.96" y2="731.10" stroke="#333333" stroke-width="1.15"/>
<text x="240.55" y="744.70" font-family='"Liberation Sans", sans-serif' font-size="12.4" fill="#262626" stroke="#262626" stroke-width="0.2" textLength="22.34" lengthAdjust="spacingAndGlyphs">120</text>
<line x1="296.30" y1="726.20" x2="296.30" y2="731.10" stroke="#333333" stroke-width="1.15"/>
<text x="284.89" y="744.70" font-family='"Liberation Sans", sans-serif' font-size="12.4" fill="#262626" stroke="#262626" stroke-width="0.2" textLength="22.34" lengthAdjust="spacingAndGlyphs">150</text>
<line x1="340.64" y1="726.20" x2="340.64" y2="731.10" stroke="#333333" stroke-width="1.15"/>
<text x="329.23" y="744.70" font-family='"Liberation Sans", sans-serif' font-size="12.4" fill="#262626" stroke="#262626" stroke-width="0.2" textLength="22.34" lengthAdjust="spacingAndGlyphs">180</text>
<rect x="399.80" y="617.54" width="9.68" height="107.86" fill="#a3b5d8"/>
<rect x="410.68" y="514.18" width="9.68" height="211.22" fill="#a3b5d8"/>
<rect x="421.56" y="518.36" width="9.68" height="207.05" fill="#a3b5d8"/>
<rect x="432.44" y="556.23" width="9.68" height="169.17" fill="#a3b5d8"/>
<rect x="443.32" y="498.13" width="9.68" height="227.27" fill="#a3b5d8"/>
<rect x="454.20" y="483.04" width="9.68" height="242.36" fill="#a3b5d8"/>
<rect x="465.08" y="478.23" width="9.68" height="247.17" fill="#a3b5d8"/>
<rect x="475.95" y="651.73" width="9.68" height="73.67" fill="#a3b5d8"/>
<rect x="486.83" y="667.78" width="9.68" height="57.62" fill="#a3b5d8"/>
<rect x="497.71" y="717.05" width="9.68" height="8.35" fill="#a3b5d8"/>
<rect x="508.59" y="715.45" width="9.68" height="9.95" fill="#a3b5d8"/>
<rect x="519.47" y="718.82" width="9.68" height="6.58" fill="#a3b5d8"/>
<rect x="530.35" y="715.93" width="9.68" height="9.47" fill="#a3b5d8"/>
<rect x="541.23" y="724.76" width="9.68" height="0.64" fill="#a3b5d8"/>
<rect x="552.11" y="724.92" width="9.68" height="0.48" fill="#a3b5d8"/>
<rect x="562.99" y="725.08" width="9.68" height="0.32" fill="#a3b5d8"/>
<rect x="573.87" y="724.92" width="9.68" height="0.48" fill="#a3b5d8"/>
<rect x="584.75" y="725.08" width="9.68" height="0.32" fill="#a3b5d8"/>
<rect x="595.63" y="724.92" width="9.68" height="0.48" fill="#a3b5d8"/>
<rect x="606.50" y="724.92" width="9.68" height="0.48" fill="#a3b5d8"/>
<rect x="617.38" y="724.76" width="9.68" height="0.64" fill="#a3b5d8"/>
<rect x="628.26" y="724.60" width="9.68" height="0.80" fill="#a3b5d8"/>
<rect x="639.14" y="724.92" width="9.68" height="0.48" fill="#a3b5d8"/>
<rect x="650.02" y="724.76" width="9.68" height="0.64" fill="#a3b5d8"/>
<rect x="660.90" y="724.92" width="9.68" height="0.48" fill="#a3b5d8"/>
<path d="M399.20,646.92 C399.63,646.41 400.66,643.06 401.77,643.87 C402.88,644.67 404.54,653.28 405.85,651.73 C407.16,650.18 408.59,642.77 409.63,634.56 C410.66,626.34 411.14,618.08 412.04,602.46 C412.95,586.84 413.93,560.99 415.07,540.82 C416.20,520.66 417.43,494.04 418.84,481.44 C420.25,468.84 422.02,464.16 423.53,465.23 C425.04,466.30 426.42,476.60 427.91,487.86 C429.39,499.12 430.93,522.37 432.44,532.80 C433.95,543.23 435.46,552.59 436.97,550.45 C438.49,548.31 440.15,528.60 441.51,519.96 C442.87,511.32 443.55,498.00 445.13,498.61 C446.72,499.23 449.11,525.44 451.03,523.65 C452.94,521.86 454.68,497.97 456.62,487.86 C458.56,477.75 460.90,464.85 462.66,462.98 C464.42,461.11 465.68,465.79 467.19,476.62 C468.71,487.46 470.42,510.73 471.73,527.98 C473.04,545.24 473.87,563.21 475.05,580.15 C476.24,597.08 477.39,618.45 478.83,629.58 C480.27,640.71 482.23,643.22 483.66,646.92 C485.10,650.61 486.01,647.21 487.44,651.73 C488.88,656.25 490.84,666.20 492.28,674.04 C493.71,681.88 494.80,691.96 496.06,698.76 C497.31,705.55 498.20,712.02 499.83,714.81 C501.47,717.59 504.01,715.50 505.88,715.45 C507.74,715.40 508.95,714.49 511.01,714.49 C513.08,714.49 515.42,714.94 518.27,715.45 C521.11,715.96 525.42,717.43 528.09,717.54 C530.76,717.64 532.29,715.53 534.28,716.09 C536.27,716.65 538.11,719.62 540.03,720.91 C541.94,722.19 543.05,723.26 545.77,723.79 C548.49,724.33 553.07,724.25 556.34,724.12 C559.62,723.98 561.88,722.97 565.41,722.99 C568.94,723.02 572.97,724.04 577.50,724.28 C582.03,724.52 587.82,724.52 592.61,724.44 C597.39,724.36 601.67,723.82 606.21,723.79 C610.74,723.77 615.52,724.12 619.81,724.28 C624.09,724.44 627.97,725.03 631.89,724.76 C635.82,724.49 639.85,722.72 643.38,722.67 C646.90,722.62 649.67,724.20 653.05,724.44 C656.42,724.68 660.60,724.28 663.62,724.12 C666.65,723.96 669.92,723.58 671.18,723.47" fill="none" stroke="#4c72b0" stroke-width="1.5" stroke-linejoin="round"/>
<line x1="385.60" y1="445.80" x2="385.60" y2="726.00" stroke="#333333" stroke-width="1.25"/>
<line x1="385.00" y1="725.40" x2="685.00" y2="725.40" stroke="#333333" stroke-width="1.25"/>
<line x1="380.70" y1="725.40" x2="385.60" y2="725.40" stroke="#333333" stroke-width="1.15"/>
<text x="371.04" y="730.70" font-family='"Liberation Sans", sans-serif' font-size="12.4" fill="#262626" stroke="#262626" stroke-width="0.2" textLength="7.02" lengthAdjust="spacingAndGlyphs">0</text>
<line x1="380.70" y1="693.30" x2="385.60" y2="693.30" stroke="#333333" stroke-width="1.15"/>
<text x="371.47" y="698.60" font-family='"Liberation Sans", sans-serif' font-size="12.4" fill="#262626" stroke="#262626" stroke-width="0.2" textLength="6.75" lengthAdjust="spacingAndGlyphs">2</text>
<line x1="380.70" y1="661.20" x2="385.60" y2="661.20" stroke="#333333" stroke-width="1.15"/>
<text x="370.99" y="666.50" font-family='"Liberation Sans", sans-serif' font-size="12.4" fill="#262626" stroke="#262626" stroke-width="0.2" textLength="7.00" lengthAdjust="spacingAndGlyphs">4</text>
<line x1="380.70" y1="629.10" x2="385.60" y2="629.10" stroke="#333333" stroke-width="1.15"/>
<text x="370.89" y="634.40" font-family='"Liberation Sans", sans-serif' font-size="12.4" fill="#262626" stroke="#262626" stroke-width="0.2" textLength="7.25" lengthAdjust="spacingAndGlyphs">6</text>
<line x1="380.70" y1="597.00" x2="385.60" y2="597.00" stroke="#333333" stroke-width="1.15"/>
<text x="370.96" y="602.30" font-family='"Liberation Sans", sans-serif' font-size="12.4" fill="#262626" stroke="#262626" stroke-width="0.2" textLength="7.17" lengthAdjust="spacingAndGlyphs">8</text>
<line x1="380.70" y1="564.90" x2="385.60" y2="564.90" stroke="#333333" stroke-width="1.15"/>
<text x="363.47" y="570.20" font-family='"Liberation Sans", sans-serif' font-size="12.4" fill="#262626" stroke="#262626" stroke-width="0.2" textLength="14.62" lengthAdjust="spacingAndGlyphs">10</text>
<line x1="380.70" y1="532.80" x2="385.60" y2="532.80" stroke="#333333" stroke-width="1.15"/>
<text x="363.91" y="538.10" font-family='"Liberation Sans", sans-serif' font-size="12.4" fill="#262626" stroke="#262626" stroke-width="0.2" textLength="14.36" lengthAdjust="spacingAndGlyphs">12</text>
<line x1="380.70" y1="500.70" x2="385.60" y2="500.70" stroke="#333333" stroke-width="1.15"/>
<text x="363.35" y="506.00" font-family='"Liberation Sans", sans-serif' font-size="12.4" fill="#262626" stroke="#262626" stroke-width="0.2" textLength="14.68" lengthAdjust="spacingAndGlyphs">14</text>
<line x1="380.70" y1="468.60" x2="385.60" y2="468.60" stroke="#333333" stroke-width="1.15"/>
<text x="363.41" y="473.90" font-family='"Liberation Sans", sans-serif' font-size="12.4" fill="#262626" stroke="#262626" stroke-width="0.2" textLength="14.76" lengthAdjust="spacingAndGlyphs">16</text>
<line x1="399.20" y1="725.40" x2="399.20" y2="730.30" stroke="#333333" stroke-width="1.15"/>
<text x="395.67" y="744.60" font-family='"Liberation Sans", sans-serif' font-size="12.4" fill="#262626" stroke="#262626" stroke-width="0.2" textLength="7.02" lengthAdjust="spacingAndGlyphs">0</text>
<line x1="444.53" y1="725.40" x2="444.53" y2="730.30" stroke="#333333" stroke-width="1.15"/>
<text x="437.23" y="744.60" font-family='"Liberation Sans", sans-serif' font-size="12.4" fill="#262626" stroke="#262626" stroke-width="0.2" textLength="14.57" lengthAdjust="spacingAndGlyphs">30</text>
<line x1="489.86" y1="725.40" x2="489.86" y2="730.30" stroke="#333333" stroke-width="1.15"/>
<text x="482.39" y="744.60" font-family='"Liberation Sans", sans-serif' font-size="12.4" fill="#262626" stroke="#262626" stroke-width="0.2" textLength="14.78" lengthAdjust="spacingAndGlyphs">60</text>
<line x1="535.19" y1="725.40" x2="535.19" y2="730.30" stroke="#333333" stroke-width="1.15"/>
<text x="527.75" y="744.60" font-family='"Liberation Sans", sans-serif' font-size="12.4" fill="#262626" stroke="#262626" stroke-width="0.2" textLength="14.77" lengthAdjust="spacingAndGlyphs">90</text>
<line x1="580.52" y1="725.40" x2="580.52" y2="730.30" stroke="#333333" stroke-width="1.15"/>
<text x="569.11" y="744.60" font-family='"Liberation Sans", sans-serif' font-size="12.4" fill="#262626" stroke="#262626" stroke-width="0.2" textLength="22.34" lengthAdjust="spacingAndGlyphs">120</text>
<line x1="625.85" y1="725.40" x2="625.85" y2="730.30" stroke="#333333" stroke-width="1.15"/>
<text x="614.44" y="744.60" font-family='"Liberation Sans", sans-serif' font-size="12.4" fill="#262626" stroke="#262626" stroke-width="0.2" textLength="22.34" lengthAdjust="spacingAndGlyphs">150</text>
<line x1="671.18" y1="725.40" x2="671.18" y2="730.30" stroke="#333333" stroke-width="1.15"/>
<text x="659.77" y="744.60" font-family='"Liberation Sans", sans-serif' font-size="12.4" fill="#262626" stroke="#262626" stroke-width="0.2" textLength="22.34" lengthAdjust="spacingAndGlyphs">180</text>
<text x="2.00" y="462.30" font-family='"Liberation Serif", serif' font-size="24" fill="#000">b)</text>
<text x="333.74" y="462.30" font-family='"Liberation Serif", serif' font-size="24" fill="#000">c)</text>
<text x="124.00" y="766.20" font-family='"Liberation Serif", serif' font-size="19.5" fill="#000" textLength="167.22" lengthAdjust="spacingAndGlyphs">value (rotation angle)</text>
<text x="459.60" y="765.90" font-family='"Liberation Serif", serif' font-size="19.5" fill="#000">value (rotation angle)</text>
<text transform="translate(16.40,637.20) rotate(-90)" x="-0.29" y="0" font-family='"Liberation Serif", serif' font-size="19.5" fill="#000" textLength="114.93" lengthAdjust="spacingAndGlyphs">percentual (%)</text>
<text x="204.41" y="546.70" font-family='"Liberation Serif", serif' font-size="19.5" fill="#000">4-30 atoms</text>
<rect x="196.60" y="558.20" width="139.60" height="79.70" fill="none" stroke="#000" stroke-width="1.8"/>
<text x="203.76" y="581.50" font-family='"Liberation Serif", serif' font-size="19.5" fill="#000" textLength="16.95" lengthAdjust="spacingAndGlyphs">0º</text>
<path d="M240.20,576.50 H257.10" stroke="#000" stroke-width="0.95" fill="none"/>
<path d="M254.30,573.10 Q255.70,575.60 257.90,576.50 Q255.70,577.40 254.30,579.90" stroke="#000" stroke-width="1.05" fill="none" stroke-linejoin="round"/>
<path d="M254.90,575.30 L257.90,576.50 L254.90,577.70 Z" fill="#000"/>
<text x="268.71" y="581.50" font-family='"Liberation Serif", serif' font-size="19.5" fill="#000" textLength="60.94" lengthAdjust="spacingAndGlyphs">38.47%</text>
<text x="203.68" y="605.00" font-family='"Liberation Serif", serif' font-size="19.5" fill="#000" textLength="26.83" lengthAdjust="spacingAndGlyphs">30º</text>
<path d="M240.20,600.00 H257.10" stroke="#000" stroke-width="0.95" fill="none"/>
<path d="M254.30,596.60 Q255.70,599.10 257.90,600.00 Q255.70,600.90 254.30,603.40" stroke="#000" stroke-width="1.05" fill="none" stroke-linejoin="round"/>
<path d="M254.90,598.80 L257.90,600.00 L254.90,601.20 Z" fill="#000"/>
<text x="267.90" y="605.00" font-family='"Liberation Serif", serif' font-size="19.5" fill="#000" textLength="61.76" lengthAdjust="spacingAndGlyphs">14.46%</text>
<text x="203.78" y="628.50" font-family='"Liberation Serif", serif' font-size="19.5" fill="#000" textLength="26.72" lengthAdjust="spacingAndGlyphs">60º</text>
<path d="M240.20,623.50 H257.10" stroke="#000" stroke-width="0.95" fill="none"/>
<path d="M254.30,620.10 Q255.70,622.60 257.90,623.50 Q255.70,624.40 254.30,626.90" stroke="#000" stroke-width="1.05" fill="none" stroke-linejoin="round"/>
<path d="M254.90,622.30 L257.90,623.50 L254.90,624.70 Z" fill="#000"/>
<text x="268.71" y="628.50" font-family='"Liberation Serif", serif' font-size="19.5" fill="#000" textLength="60.94" lengthAdjust="spacingAndGlyphs">34.18%</text>
<text x="544.31" y="546.70" font-family='"Liberation Serif", serif' font-size="19.5" fill="#000">4-100 atoms</text>
<rect x="534.10" y="558.20" width="134.60" height="79.90" fill="none" stroke="#000" stroke-width="1.8"/>
<text x="543.76" y="581.50" font-family='"Liberation Serif", serif' font-size="19.5" fill="#000" textLength="16.95" lengthAdjust="spacingAndGlyphs">0º</text>
<path d="M579.80,576.50 H596.50" stroke="#000" stroke-width="0.95" fill="none"/>
<path d="M593.70,573.10 Q595.10,575.60 597.30,576.50 Q595.10,577.40 593.70,579.90" stroke="#000" stroke-width="1.05" fill="none" stroke-linejoin="round"/>
<path d="M594.30,575.30 L597.30,576.50 L594.30,577.70 Z" fill="#000"/>
<text x="607.81" y="581.50" font-family='"Liberation Serif", serif' font-size="19.5" fill="#000" textLength="51.35" lengthAdjust="spacingAndGlyphs">3.71%</text>
<text x="543.68" y="605.00" font-family='"Liberation Serif", serif' font-size="19.5" fill="#000" textLength="26.83" lengthAdjust="spacingAndGlyphs">30º</text>
<path d="M579.80,600.00 H596.50" stroke="#000" stroke-width="0.95" fill="none"/>
<path d="M593.70,596.60 Q595.10,599.10 597.30,600.00 Q595.10,600.90 593.70,603.40" stroke="#000" stroke-width="1.05" fill="none" stroke-linejoin="round"/>
<path d="M594.30,598.80 L597.30,600.00 L594.30,601.20 Z" fill="#000"/>
<text x="607.40" y="605.00" font-family='"Liberation Serif", serif' font-size="19.5" fill="#000" textLength="51.76" lengthAdjust="spacingAndGlyphs">7.72%</text>
<text x="543.78" y="628.50" font-family='"Liberation Serif", serif' font-size="19.5" fill="#000" textLength="26.72" lengthAdjust="spacingAndGlyphs">60º</text>
<path d="M579.80,623.50 H596.50" stroke="#000" stroke-width="0.95" fill="none"/>
<path d="M593.70,620.10 Q595.10,622.60 597.30,623.50 Q595.10,624.40 593.70,626.90" stroke="#000" stroke-width="1.05" fill="none" stroke-linejoin="round"/>
<path d="M594.30,622.30 L597.30,623.50 L594.30,624.70 Z" fill="#000"/>
<text x="607.81" y="628.50" font-family='"Liberation Serif", serif' font-size="19.5" fill="#000" textLength="51.35" lengthAdjust="spacingAndGlyphs">2.82%</text></svg></body></html>
